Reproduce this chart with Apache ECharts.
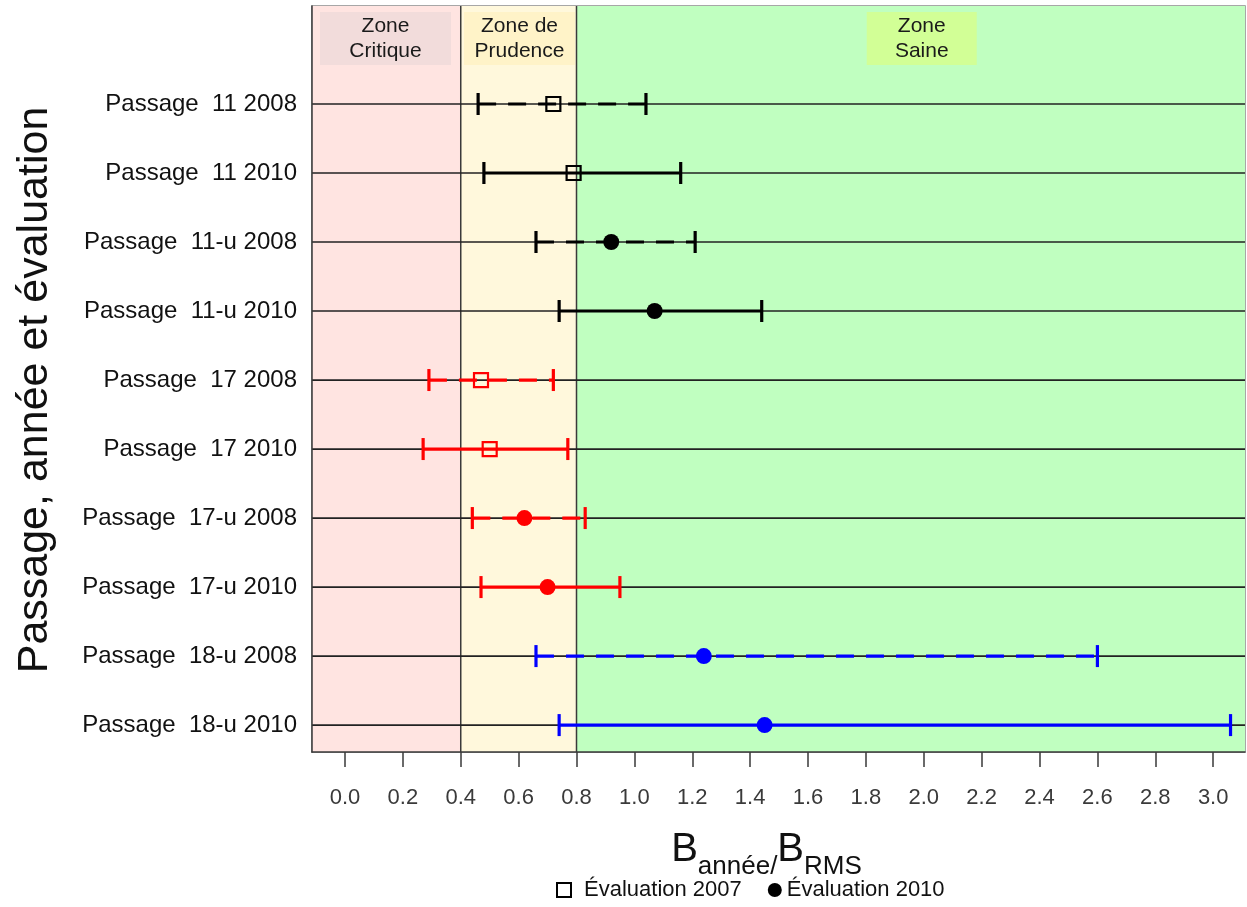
<!DOCTYPE html>
<html>
<head>
<meta charset="utf-8">
<script src="https://cdn.jsdelivr.net/npm/echarts@6/dist/echarts.min.js"></script>
<style>
  html, body { margin: 0; padding: 0; background: #fff; }
  #chart { width: 1247px; height: 907px; }
</style>
</head>
<body>
<div id="chart"></div>
<script>
// Biomass ratio B(année)/B(RMS) with confidence interval, per passage, survey year and assessment
const rowLabels = [
  'Passage  11 2008', 'Passage  11 2010',
  'Passage  11-u 2008', 'Passage  11-u 2010',
  'Passage  17 2008', 'Passage  17 2010',
  'Passage  17-u 2008', 'Passage  17-u 2010',
  'Passage  18-u 2008', 'Passage  18-u 2010'
];
const lower    = [0.46, 0.48, 0.66, 0.74, 0.29, 0.27, 0.44, 0.47, 0.66, 0.74];
const estimate = [0.72, 0.79, 0.92, 1.07, 0.47, 0.50, 0.62, 0.70, 1.24, 1.45];
const upper    = [1.04, 1.16, 1.21, 1.44, 0.72, 0.77, 0.83, 0.95, 2.60, 3.06];
const assessment = ['2007', '2007', '2010', '2010', '2007', '2007', '2010', '2010', '2010', '2010'];
const surveyYear = [2008, 2010, 2008, 2010, 2008, 2010, 2008, 2010, 2008, 2010];
const passage    = ['11', '11', '11', '11', '17', '17', '17', '17', '18', '18'];

const zoneLimits = [0.4, 0.8];
const zoneNames  = ['Zone\nCritique', 'Zone de\nPrudence', 'Zone\nSaine'];
const xTicks = [0.0, 0.2, 0.4, 0.6, 0.8, 1.0, 1.2, 1.4, 1.6, 1.8, 2.0, 2.2, 2.4, 2.6, 2.8, 3.0];
const legendNames = { '2007': 'Évaluation 2007', '2010': 'Évaluation 2010' };

// ---- styling ----
const FONT = "'Liberation Sans', Arial, sans-serif";
const passageColors = { '11': '#000000', '17': '#ff0000', '18': '#0000ff' };
const zoneFill  = ['#ffe4e1', '#fff8dc', '#c0ffc0'];
const zoneBoxFill = ['#f2dcdb', '#fff3c8', '#d2ff96'];
const zoneBoxCenter = [0.14, 0.603, 1.993];   // x value of each zone caption
const zoneBoxWidth = [131, 111, 110];

const chart = echarts.init(document.getElementById('chart'), null, { renderer: 'canvas' });

function zoneItem(params, api) {
  const i = api.value(0);
  const cs = params.coordSys;
  const x0 = i === 0 ? cs.x : api.coord([zoneLimits[i - 1], 0])[0];
  const x1 = i === zoneNames.length - 1 ? cs.x + cs.width : api.coord([zoneLimits[i], 0])[0];
  const cx = api.coord([zoneBoxCenter[i], 0])[0];
  const w = zoneBoxWidth[i];
  const children = [
    { type: 'rect', shape: { x: x0, y: cs.y, width: x1 - x0, height: cs.height },
      style: { fill: zoneFill[i] } },
    { type: 'rect', shape: { x: cx - w / 2, y: cs.y + 6, width: w, height: 53 },
      style: { fill: zoneBoxFill[i] } },
    { type: 'text', x: cx, y: cs.y + 33,
      style: { text: zoneNames[i], fill: '#1a1a1a', font: '21px ' + FONT,
               align: 'center', verticalAlign: 'middle', lineHeight: 25 } }
  ];
  if (i > 0) {
    children.push({ type: 'line', shape: { x1: x0, y1: cs.y, x2: x0, y2: cs.y + cs.height },
      style: { stroke: '#3a3a3a', lineWidth: 1.5 } });
  }
  return { type: 'group', children: children };
}

function rowLineItem(params, api) {
  const cs = params.coordSys;
  const y = api.coord([0, api.value(0)])[1];
  return { type: 'line', shape: { x1: cs.x, y1: y, x2: cs.x + cs.width, y2: y },
    style: { stroke: '#222', lineWidth: 1.7 } };
}

function intervalItem(params, api) {
  const row = api.value(1);
  const color = passageColors[passage[row]];
  const pE = api.coord([api.value(0), row]);
  const pL = api.coord([api.value(2), row]);
  const pU = api.coord([api.value(3), row]);
  const dashed = surveyYear[row] === 2008;
  const cap = 11;
  const children = [
    { type: 'line', shape: { x1: pL[0], y1: pL[1], x2: pU[0], y2: pU[1] },
      style: { stroke: color, lineWidth: 3.2, lineDash: dashed ? [18, 12] : null } },
    { type: 'line', shape: { x1: pL[0], y1: pL[1] - cap, x2: pL[0], y2: pL[1] + cap },
      style: { stroke: color, lineWidth: 3.2 } },
    { type: 'line', shape: { x1: pU[0], y1: pU[1] - cap, x2: pU[0], y2: pU[1] + cap },
      style: { stroke: color, lineWidth: 3.2 } }
  ];
  if (assessment[row] === '2007') {
    children.push({ type: 'rect', shape: { x: pE[0] - 7, y: pE[1] - 7, width: 14, height: 14 },
      style: { fill: 'none', stroke: color, lineWidth: 2.2 } });
  } else {
    children.push({ type: 'circle', shape: { cx: pE[0], cy: pE[1], r: 8 },
      style: { fill: color } });
  }
  return { type: 'group', children: children };
}

function seriesData(code) {
  const out = [];
  rowLabels.forEach((_, i) => {
    if (assessment[i] === code) out.push([estimate[i], i, lower[i], upper[i]]);
  });
  return out;
}

const option = {
  animation: false,
  backgroundColor: '#fff',
  textStyle: { fontFamily: FONT },
  grid: { left: 312, right: 2, top: 6, bottom: 155, show: true,
          borderColor: '#8a8a8a', borderWidth: 1.5, backgroundColor: 'transparent' },
  xAxis: {
    type: 'value', min: -0.114, max: 3.11, z: 10,
    axisLine: { show: true, onZero: false, lineStyle: { color: '#3a3a3a', width: 1.5 } },
    axisTick: { show: true, customValues: xTicks, length: 15, lineStyle: { color: '#3a3a3a', width: 1.5 } },
    axisLabel: { customValues: xTicks, formatter: v => v.toFixed(1), fontSize: 22,
                 color: '#3a3a3a', margin: 35, fontFamily: FONT },
    splitLine: { show: false },
    name: '{b|B}{s|année/}{b|B}{s|RMS}',
    nameLocation: 'middle', nameGap: 78,
    nameTextStyle: { padding: [0, 24, 0, 0], rich: {
      b: { fontSize: 40, color: '#111', fontFamily: FONT, verticalAlign: 'bottom', padding: [0, 0, 10, 0] },
      s: { fontSize: 26, color: '#111', fontFamily: FONT, verticalAlign: 'bottom' }
    } }
  },
  yAxis: {
    type: 'value', inverse: true, min: -1.42, max: 9.39, z: 10,
    axisLine: { show: true, onZero: false, lineStyle: { color: '#3a3a3a', width: 1.5 } },
    axisTick: { show: false },
    axisLabel: { customValues: rowLabels.map((_, i) => i), formatter: v => rowLabels[v],
                 fontSize: 24, color: '#111', margin: 15, fontFamily: FONT },
    splitLine: { show: false }
  },
  legend: {
    data: [
      { name: legendNames['2007'], icon: 'rect', itemStyle: { color: '#fff', borderColor: '#000', borderWidth: 2 } },
      { name: legendNames['2010'], icon: 'circle', itemStyle: { color: '#000' } }
    ],
    left: 551, top: 874, itemWidth: 14, itemHeight: 14, itemGap: 26,
    formatter: name => name === legendNames['2007'] ? '{w|' + name + '}' : '{n|' + name + '}',
    textStyle: { fontSize: 22, color: '#111', fontFamily: FONT, rich: {
      w: { fontSize: 22, color: '#111', fontFamily: FONT, padding: [0, 0, 0, 8] },
      n: { fontSize: 22, color: '#111', fontFamily: FONT, padding: [0, 0, 0, 0] }
    } }
  },
  graphic: [{
    type: 'text', x: 35, y: 390, rotation: Math.PI / 2,
    style: { text: 'Passage, année et évaluation', font: '43px ' + FONT, fill: '#111',
             align: 'center', verticalAlign: 'middle' }
  }],
  series: [
    { type: 'custom', name: 'zones', z: 1, silent: true, renderItem: zoneItem,
      data: zoneNames.map((_, i) => [i]), encode: { x: -1, y: -1 } },
    { type: 'custom', name: 'rows', z: 2, silent: true, renderItem: rowLineItem,
      data: rowLabels.map((_, i) => [i]), encode: { y: 0 } },
    { type: 'custom', name: legendNames['2007'], z: 3, renderItem: intervalItem,
      itemStyle: { color: '#000' }, data: seriesData('2007'), encode: { x: [0, 2, 3], y: 1 } },
    { type: 'custom', name: legendNames['2010'], z: 3, renderItem: intervalItem,
      itemStyle: { color: '#000' }, data: seriesData('2010'), encode: { x: [0, 2, 3], y: 1 } }
  ]
};

chart.setOption(option);
</script>
</body>
</html>
